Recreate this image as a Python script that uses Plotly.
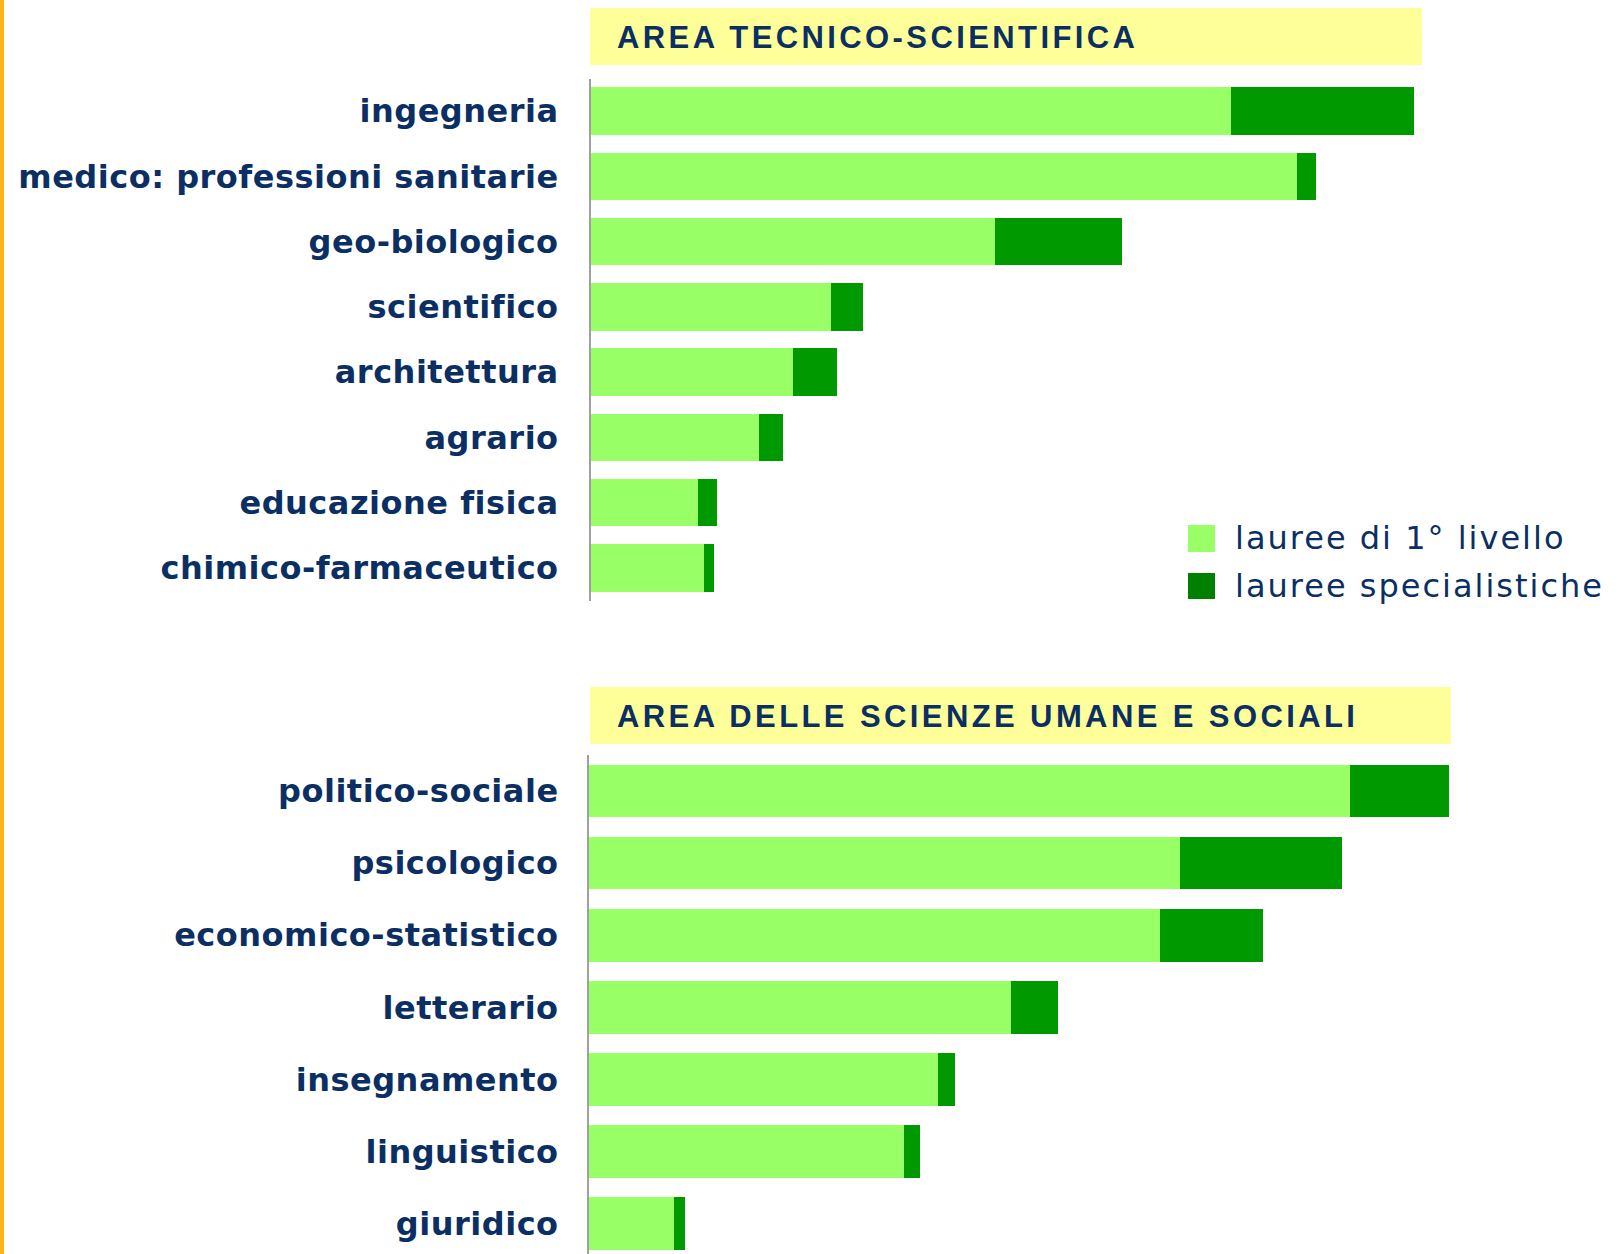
import plotly.graph_objects as go

# ---- data (arbitrary common unit) ----
top_categories = ["ingegneria", "medico: professioni sanitarie", "geo-biologico", "scientifico",
                  "architettura", "agrario", "educazione fisica", "chimico-farmaceutico"]
top_primo_livello = [621, 685, 392, 233, 196, 163, 104, 110]
top_specialistiche = [177, 18, 123, 31, 43, 23, 18, 9]

bottom_categories = ["politico-sociale", "psicologico", "economico-statistico", "letterario",
                     "insegnamento", "linguistico", "giuridico"]
bottom_primo_livello = [738, 573, 554, 409, 338, 305, 82]
bottom_specialistiche = [96, 157, 100, 46, 17, 16, 11]

series_names = ["lauree di 1° livello", "lauree specialistiche"]
panel_titles = ["AREA TECNICO-SCIENTIFICA", "AREA DELLE SCIENZE UMANE E SOCIALI"]

# ---- style ----
W, H = 1617, 1254
LIGHT = "#99FF66"
DARK = "#009900"
LEGEND_DARK = "#008000"
NAVY = "#0B2F63"
YELLOW = "#FFFF99"
ORANGE = "#FDB515"
GREY = "#A0A0A0"
X_MAX = 850


def px(x):
    return x / W


def py(y):
    return 1 - y / H


def spaced(s, sp):
    return f'<span style="letter-spacing:{sp}px">{s}</span>'


fig = go.Figure()

fig.add_trace(go.Bar(y=top_categories, x=top_primo_livello, orientation="h", name=series_names[0],
                     marker=dict(color=LIGHT, line=dict(width=0)), xaxis="x", yaxis="y", showlegend=False))
fig.add_trace(go.Bar(y=top_categories, x=top_specialistiche, orientation="h", name=series_names[1],
                     marker=dict(color=DARK, line=dict(width=0)), xaxis="x", yaxis="y", showlegend=False))
fig.add_trace(go.Bar(y=bottom_categories, x=bottom_primo_livello, orientation="h", name=series_names[0],
                     marker=dict(color=LIGHT, line=dict(width=0)), xaxis="x2", yaxis="y2", showlegend=False))
fig.add_trace(go.Bar(y=bottom_categories, x=bottom_specialistiche, orientation="h", name=series_names[1],
                     marker=dict(color=DARK, line=dict(width=0)), xaxis="x2", yaxis="y2", showlegend=False))

scale_px = 1.03125
top_x0 = 591
bot_x0 = 589
width_px = X_MAX * scale_px

tickfont = dict(family="DejaVu Sans", size=32, color=NAVY, weight="bold")

fig.update_layout(
    width=W, height=H,
    margin=dict(l=0, r=0, t=0, b=0),
    paper_bgcolor="white", plot_bgcolor="white",
    barmode="stack", bargap=0.27,
    showlegend=False,
    xaxis=dict(domain=[px(top_x0), px(top_x0 + width_px)], range=[0, X_MAX], visible=False, anchor="y"),
    yaxis=dict(domain=[py(600.5), py(78.5)], type="category", categoryorder="array",
               categoryarray=top_categories, range=[7.5, -0.5], anchor="x",
               tickmode="array", tickvals=top_categories,
               ticktext=[spaced(c, 0.5) for c in top_categories],
               showline=True, linecolor=GREY, linewidth=2, showgrid=False, zeroline=False,
               ticks="", tickfont=tickfont, ticklabelstandoff=24),
    xaxis2=dict(domain=[px(bot_x0), px(bot_x0 + width_px)], range=[0, X_MAX], visible=False, anchor="y2"),
    yaxis2=dict(domain=[0, py(755)], type="category", categoryorder="array",
                categoryarray=bottom_categories, range=[6.42, -0.5], anchor="x2",
                tickmode="array", tickvals=bottom_categories,
                ticktext=[spaced(c, 0.5) for c in bottom_categories],
                showline=True, linecolor=GREY, linewidth=2, showgrid=False, zeroline=False,
                ticks="", tickfont=tickfont, ticklabelstandoff=22),
)

shapes = [
    # orange left border
    dict(type="rect", xref="paper", yref="paper", x0=0, x1=px(4), y0=0, y1=1,
         fillcolor=ORANGE, line=dict(width=0), layer="below"),
    # title boxes
    dict(type="rect", xref="paper", yref="paper", x0=px(590), x1=px(1422), y0=py(65), y1=py(8),
         fillcolor=YELLOW, line=dict(width=0), layer="below"),
    dict(type="rect", xref="paper", yref="paper", x0=px(590), x1=px(1451), y0=py(744), y1=py(687),
         fillcolor=YELLOW, line=dict(width=0), layer="below"),
    # legend swatches
    dict(type="rect", xref="paper", yref="paper", x0=px(1188), x1=px(1215), y0=py(552), y1=py(525),
         fillcolor=LIGHT, line=dict(width=0)),
    dict(type="rect", xref="paper", yref="paper", x0=px(1188), x1=px(1215), y0=py(599), y1=py(573),
         fillcolor=LEGEND_DARK, line=dict(width=0)),
]
fig.update_layout(shapes=shapes)

title_font = dict(family="Liberation Sans", size=31, color=NAVY, weight="bold")
legend_font = dict(family="DejaVu Sans", size=32, color=NAVY)
annotations = [
    dict(text=spaced(panel_titles[0], 3.4), xref="paper", yref="paper", x=px(615), y=py(38),
         xanchor="left", yanchor="middle", showarrow=False, font=title_font),
    dict(text=spaced(panel_titles[1], 3.4), xref="paper", yref="paper", x=px(615), y=py(716),
         xanchor="left", yanchor="middle", showarrow=False, font=title_font),
    dict(text=spaced(series_names[0], 2.0), xref="paper", yref="paper", x=px(1233), y=py(538),
         xanchor="left", yanchor="middle", showarrow=False, font=legend_font),
    dict(text=spaced(series_names[1], 2.0), xref="paper", yref="paper", x=px(1233), y=py(586),
         xanchor="left", yanchor="middle", showarrow=False, font=legend_font),
]
fig.update_layout(annotations=annotations)

fig.write_html("out.html", config={"displayModeBar": False},
               post_script="document.body.style.margin='0px';")
